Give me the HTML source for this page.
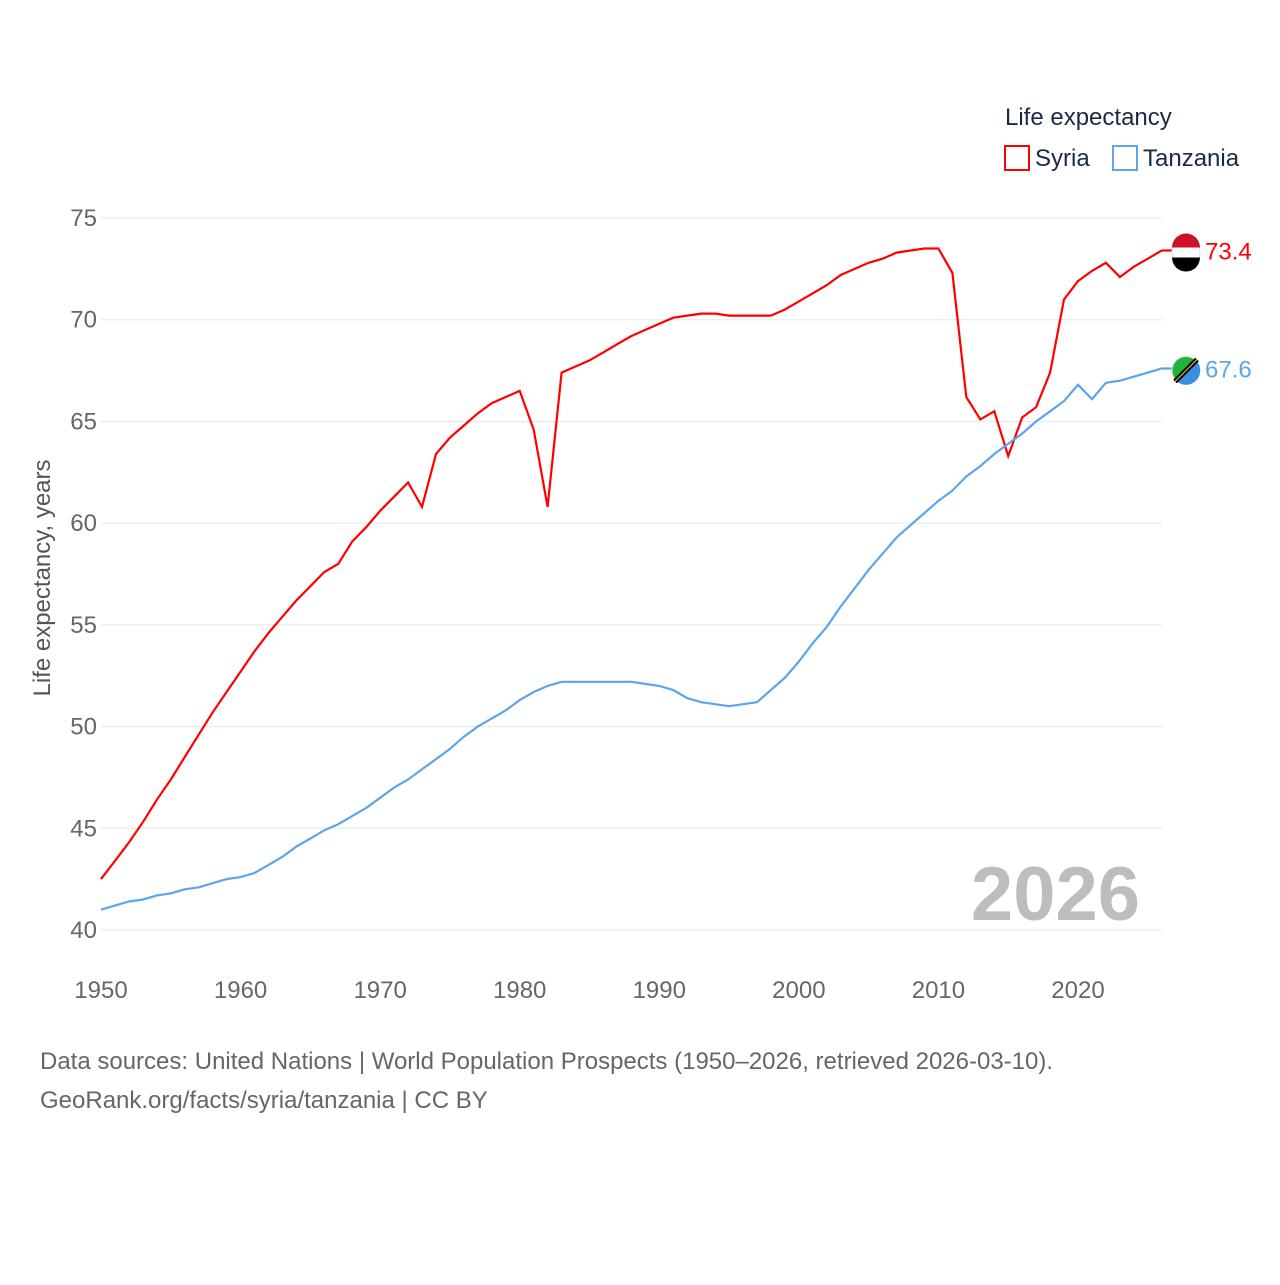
<!DOCTYPE html>
<html><head><meta charset="utf-8"><style>
body{margin:0;background:#fff;font-family:"Liberation Sans",sans-serif}
svg text{font-family:"Liberation Sans",sans-serif}
</style></head><body>
<svg width="1280" height="1280">
<g id="grid"></g>
<g id="ylabels"></g>
<g id="xlabels"></g>
<text x="50" y="578" transform="rotate(-90 50 578)" text-anchor="middle" font-size="24" fill="#555">Life expectancy, years</text>
<text x="1140" y="920" text-anchor="end" font-size="76" font-weight="bold" fill="#bdbdbd">2026</text>
<g id="lines"></g>
<g>
<text x="1005" y="125" font-size="24" fill="#1a2a44">Life expectancy</text>
<g><rect x="1005" y="146" width="24" height="24" fill="none" stroke="#ff0000" stroke-width="2"/><text x="1035" y="166" font-size="24" fill="#1a2a44">Syria</text></g>
<g><rect x="1113" y="146" width="24" height="24" fill="none" stroke="#5aa5ec" stroke-width="2"/><text x="1143" y="166" font-size="24" fill="#1a2a44">Tanzania</text></g>
</g>
<g id="ends"></g>
<text x="40" y="1069" font-size="24" fill="#666">Data sources: United Nations | World Population Prospects (1950–2026, retrieved 2026-03-10).</text>
<text x="40" y="1108" font-size="24" fill="#666">GeoRank.org/facts/syria/tanzania | CC BY</text>
</svg>
<script>
const years=[];for(let y=1950;y<=2026;y++)years.push(y);
const syria=[42.5,43.4,44.3,45.3,46.4,47.4,48.5,49.6,50.7,51.7,52.7,53.7,54.6,55.4,56.2,56.9,57.6,58.0,59.1,59.8,60.6,61.3,62.0,60.8,63.4,64.2,64.8,65.4,65.9,66.2,66.5,64.6,60.8,67.4,67.7,68.0,68.4,68.8,69.2,69.5,69.8,70.1,70.2,70.3,70.3,70.2,70.2,70.2,70.2,70.5,70.9,71.3,71.7,72.2,72.5,72.8,73.0,73.3,73.4,73.5,73.5,72.3,66.2,65.1,65.5,63.3,65.2,65.7,67.4,71.0,71.9,72.4,72.8,72.1,72.6,73.0,73.4];
const tanzania=[41.0,41.2,41.4,41.5,41.7,41.8,42.0,42.1,42.3,42.5,42.6,42.8,43.2,43.6,44.1,44.5,44.9,45.2,45.6,46.0,46.5,47.0,47.4,47.9,48.4,48.9,49.5,50.0,50.4,50.8,51.3,51.7,52.0,52.2,52.2,52.2,52.2,52.2,52.2,52.1,52.0,51.8,51.4,51.2,51.1,51.0,51.1,51.2,51.8,52.4,53.2,54.1,54.9,55.9,56.8,57.7,58.5,59.3,59.9,60.5,61.1,61.6,62.3,62.8,63.4,63.9,64.4,65.0,65.5,66.0,66.8,66.1,66.9,67.0,67.2,67.4,67.6];
const yTicks=[40,45,50,55,60,65,70,75];
const xTicks=[1950,1960,1970,1980,1990,2000,2010,2020];
const X=v=>101+(v-1950)*(1078-101)/70;
const Y=v=>930-(v-40)*(930-218)/35;
const NS='http://www.w3.org/2000/svg';
function mk(t,a,p){const e=document.createElementNS(NS,t);for(const k in a)e.setAttribute(k,a[k]);p.appendChild(e);return e;}
const grid=document.getElementById('grid'),yl=document.getElementById('ylabels'),xl=document.getElementById('xlabels');
yTicks.forEach(t=>{
 const l=mk('line',{x1:101,x2:1162,y1:Y(t),y2:Y(t),stroke:'#e6e6e6','stroke-width':1},grid);
 
 
 const tx=mk('text',{x:97,y:Y(t)+8,'text-anchor':'end','font-size':24,fill:'#666'},yl);tx.textContent=t;
 
 
});
xTicks.forEach(t=>{
 const tx=mk('text',{x:X(t),y:998,'text-anchor':'middle','font-size':24,fill:'#666'},xl);tx.textContent=t;
 
 
});
const lines=document.getElementById('lines'),ends=document.getElementById('ends');
[[syria,'#ff0000','syria'],[tanzania,'#5aa5ec','tanzania']].forEach(([d,c,n])=>{
 const last=d[d.length-1],yy=Y(last);
 const p=mk('path',{d:d.map((v,i)=>(i?'L':'M')+X(years[i]).toFixed(1)+','+Y(v).toFixed(1)).join('')+'L1172,'+yy.toFixed(1),fill:'none',stroke:c,'stroke-width':2.2},lines);
 
 
 const ci=mk('circle',{cx:1186,cy:yy+2,r:14,fill:n==='syria'?'#fff':'#1eb53a',stroke:'#ddd'},ends);
 
 
 if(n==='syria'){mk('path',{d:`M1172,${yy-3}A14,14 0 0 1 1200,${yy-3}Z`,fill:'#ce1126'},ends);mk('path',{d:`M1172,${yy+7}A14,14 0 0 0 1200,${yy+7}Z`,fill:'#000'},ends);}
 else{mk('path',{d:`M1176,${yy+12}L1196,${yy-8}A14,14 0 0 1 1196,${yy+12}A14,14 0 0 1 1176,${yy+12}Z`,fill:'#3a8fe0'},ends);mk('line',{x1:1175,y1:yy+13,x2:1197,y2:yy-9,stroke:'#000','stroke-width':5},ends);mk('line',{x1:1175,y1:yy+13,x2:1197,y2:yy-9,stroke:'#fcd116','stroke-width':1},ends);}
 const tx=mk('text',{x:1205,y:yy+9,'font-size':24,fill:c},ends);tx.textContent=last.toFixed(1);
 
 
});
</script>
</body></html>
